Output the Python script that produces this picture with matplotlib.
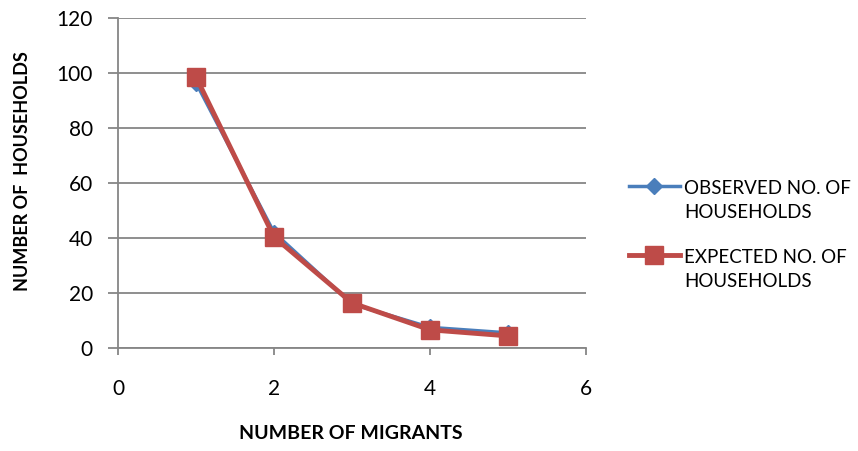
import matplotlib
matplotlib.use("Agg")
import matplotlib.pyplot as plt

plt.rcParams['font.family'] = ['Lato', 'DejaVu Sans']

migrants = [1, 2, 3, 4, 5]
observed = [96.5, 42, 16, 7.5, 5.5]
expected = [98.6, 40.4, 16.4, 6.6, 4.4]
series_labels = ["OBSERVED NO. OF\nHOUSEHOLDS", "EXPECTED NO. OF\nHOUSEHOLDS"]
x_ticks = [0, 2, 4, 6]
y_ticks = [0, 20, 40, 60, 80, 100, 120]

fig = plt.figure(figsize=(8.58, 4.51), dpi=100)
ax = fig.add_axes([0.1375, 0.2284, 0.5455, 0.7316])

grey = "#868686"
ax.plot(migrants, observed, color="#4A7EBB", lw=2.5, marker="D", ms=8,
        label=series_labels[0], zorder=3)
ax.plot(migrants, expected, color="#BE4B48", lw=3.5, marker="s", ms=13,
        label=series_labels[1], zorder=4)

ax.set_xlim(0, 6)
ax.set_ylim(0, 120)
ax.set_xticks(x_ticks)
ax.set_yticks(y_ticks)
ax.grid(axis="y", color=grey, lw=1.3)
ax.set_axisbelow(True)
for s in ["top", "right"]:
    ax.spines[s].set_visible(False)
for s in ["left", "bottom"]:
    ax.spines[s].set_color(grey)
    ax.spines[s].set_linewidth(1.3)
ax.tick_params(axis="y", colors=grey, length=7, width=1.3, labelsize=15,
               labelcolor="black", direction="out", pad=11)
ax.tick_params(axis="x", colors=grey, length=5, width=1.3, labelsize=15,
               labelcolor="black", direction="out", pad=17)
ax.set_xlabel("NUMBER OF MIGRANTS", fontsize=14, fontweight="bold", va="top")
ax.xaxis.set_label_coords(0.497, -0.232)
ax.set_ylabel("NUMBER OF  HOUSEHOLDS", fontsize=13, fontweight="bold")
ax.yaxis.set_label_coords(-0.186, 0.536)

leg = ax.legend(loc="upper left", bbox_to_anchor=(1.092, 0.51), frameon=False,
                fontsize=13.5, handlelength=2.7, labelspacing=1.5,
                handletextpad=0.25, borderaxespad=0, borderpad=0)
for t in leg.get_texts():
    t.set_linespacing(1.5)
for col in leg._legend_handle_box.get_children():
    for row in col.get_children():
        row.align = "top"

fig.savefig("out.png", dpi=100)
